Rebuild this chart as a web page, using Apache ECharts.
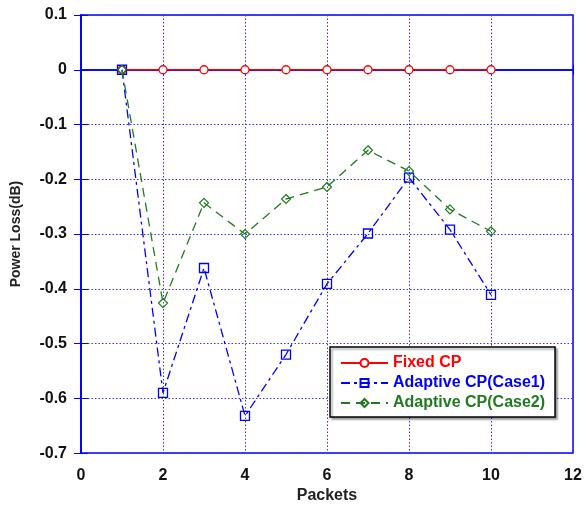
<!DOCTYPE html>
<html><head><meta charset="utf-8">
<script src="https://cdn.jsdelivr.net/npm/echarts@6/dist/echarts.min.js"></script>
<style>html,body{margin:0;padding:0;background:#fff}#c{width:586px;height:509px}</style>
</head><body><div id="c"></div>
<script>
const packets = [1,2,3,4,5,6,7,8,9,10];
const fixedCP = [0,0,0,0,0,0,0,0,0,0];
const adaptiveCase1 = [0,-0.59,-0.362,-0.632,-0.52,-0.391,-0.299,-0.197,-0.292,-0.411];
const adaptiveCase2 = [0,-0.426,-0.243,-0.30,-0.236,-0.214,-0.147,-0.185,-0.255,-0.295];
const seriesNames = ['Fixed CP','Adaptive CP(Case1)','Adaptive CP(Case2)'];
const colors = ['#ff0000','#0000ff','#1e7b1e'];

const font = 'Arial, "Liberation Sans", sans-serif';
const pair = arr => packets.map((p,i)=>[p,arr[i]]);
const chart = echarts.init(document.getElementById('c'));
const gridLine = {show:true,lineStyle:{color:'#3333ff',type:[1.5,2],width:1}};
const axisLine = {show:true,lineStyle:{color:'#0000ff',width:1.5}};
chart.setOption({
  animation:false,
  grid:{left:81,right:13,top:15,bottom:52,show:true,borderColor:'#0000ff',borderWidth:1.5},
  xAxis:[{type:'value',min:0,max:12,interval:2,
    name:'Packets',nameLocation:'middle',nameGap:33,
    nameTextStyle:{fontFamily:font,fontWeight:'bold',fontSize:16,color:'#222'},
    axisLine:axisLine,axisTick:{show:true,inside:true,length:5,lineStyle:{color:'#0000ff'}},
    splitLine:gridLine,
    axisLabel:{fontFamily:font,fontWeight:'bold',fontSize:16,color:'#111',margin:14}},
    {type:'value',position:'top',min:0,max:12,interval:2,axisLine:axisLine,
     axisTick:{show:true,inside:true,length:5,lineStyle:{color:'#0000ff'}},axisLabel:{show:false},splitLine:{show:false}}],
  yAxis:[{type:'value',min:-0.7,max:0.1,interval:0.1,
    name:'Power Loss(dB)',nameLocation:'middle',nameGap:58,
    nameTextStyle:{fontFamily:font,fontWeight:'bold',fontSize:14,color:'#222'},
    axisLine:axisLine,axisTick:{show:true,inside:true,length:7,lineStyle:{color:'#0000ff'}},
    splitLine:gridLine,
    axisLabel:{fontFamily:font,fontWeight:'bold',fontSize:16,color:'#111',margin:14,
      formatter:v=>{const r=Math.round(v*10)/10;return r===0?'0':String(r);}}},
    {type:'value',position:'right',min:-0.7,max:0.1,interval:0.1,axisLine:axisLine,
     axisTick:{show:true,inside:true,length:7,lineStyle:{color:'#0000ff'}},axisLabel:{show:false},splitLine:{show:false}}],
  legend:{orient:'vertical',left:330,top:347,width:226,
    backgroundColor:'#fff',borderColor:'#000',borderWidth:1.5,borderRadius:0,
    padding:[8,10,6,10],itemGap:4,itemWidth:47,itemHeight:10,
    shadowColor:'rgba(0,0,0,0.35)',shadowOffsetX:2,shadowOffsetY:2,shadowBlur:2,
    textStyle:{fontFamily:font,fontWeight:'bold',fontSize:16},
    data:seriesNames.map((n,i)=>({name:n,textStyle:{color:colors[i]}}))},
  series:[
    {name:seriesNames[0],type:'line',data:pair(fixedCP),color:colors[0],
     symbol:'circle',symbolSize:8,itemStyle:{color:'#fff',borderColor:colors[0],borderWidth:1.3},
     lineStyle:{color:colors[0],width:1.3},z:3},
    {name:seriesNames[1],type:'line',data:pair(adaptiveCase1),color:colors[1],
     symbol:'rect',symbolSize:9,itemStyle:{color:'rgba(255,255,255,0)',borderColor:colors[1],borderWidth:1.3},
     lineStyle:{color:colors[1],width:1.3,type:[9,4,3,4]},z:4},
    {name:seriesNames[2],type:'line',data:pair(adaptiveCase2),color:colors[2],
     symbol:'diamond',symbolSize:9,itemStyle:{color:'rgba(255,255,255,0)',borderColor:colors[2],borderWidth:1.2},
     lineStyle:{color:colors[2],width:1.3,type:[9,6]},z:5}
  ]
});
</script></body></html>
